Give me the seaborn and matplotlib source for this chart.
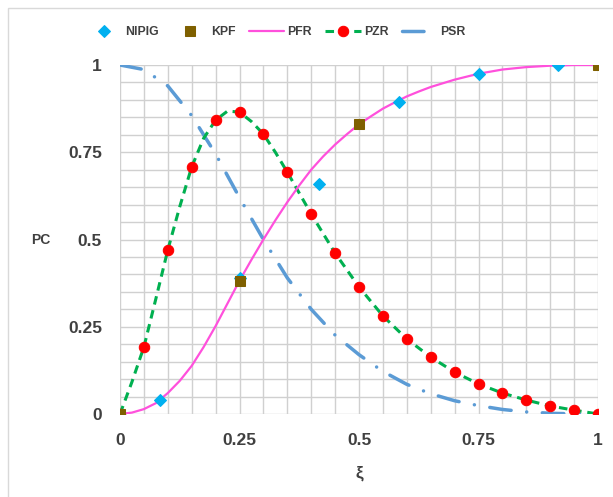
import matplotlib
matplotlib.use("Agg")
import matplotlib.pyplot as plt
import seaborn as sns
import pandas as pd
from matplotlib.patches import Rectangle

# ---- data ----
xi = [0, 0.05, 0.1, 0.15, 0.2, 0.25, 0.3, 0.35, 0.4, 0.45, 0.5,
      0.55, 0.6, 0.65, 0.7, 0.75, 0.8, 0.85, 0.9, 0.95, 1.0]
pzr = [0, 0.192, 0.47, 0.708, 0.842, 0.865, 0.802, 0.693, 0.573, 0.461, 0.364,
       0.281, 0.215, 0.163, 0.12, 0.086, 0.06, 0.04, 0.023, 0.011, 0]
# PZR curve (dashed line) read at a finer step near the peak
pzr_line_x = [0, 0.025, 0.05, 0.075, 0.1, 0.125, 0.15, 0.175, 0.2, 0.225, 0.25,
              0.275, 0.3, 0.325, 0.35, 0.4, 0.45, 0.5, 0.55, 0.6, 0.65, 0.7,
              0.75, 0.8, 0.85, 0.9, 0.95, 1.0]
pzr_line_y = [0, 0.092, 0.192, 0.33, 0.47, 0.594, 0.708, 0.79, 0.842, 0.868, 0.865,
              0.838, 0.802, 0.75, 0.693, 0.573, 0.461, 0.364, 0.281, 0.215, 0.163,
              0.12, 0.086, 0.06, 0.04, 0.023, 0.011, 0]
pfr_x = [0, 0.025, 0.05, 0.075, 0.1, 0.125, 0.15, 0.175, 0.2, 0.225, 0.25,
         0.275, 0.3, 0.325, 0.35, 0.375, 0.4, 0.425, 0.45, 0.475, 0.5,
         0.525, 0.55, 0.575, 0.6, 0.625, 0.65, 0.7, 0.75, 0.8, 0.85, 0.9,
         0.95, 1.0]
pfr = [0, 0.004, 0.014, 0.031, 0.06, 0.095, 0.138, 0.192, 0.252, 0.317, 0.382,
       0.442, 0.5, 0.555, 0.607, 0.655, 0.70, 0.738, 0.772, 0.802, 0.83,
       0.853, 0.875, 0.893, 0.91, 0.924, 0.937, 0.958, 0.975, 0.987, 0.994,
       0.998, 1.0, 1.0]
psr = [1.0, 0.987, 0.94, 0.855, 0.745, 0.62, 0.5, 0.39, 0.30, 0.226, 0.17,
       0.122, 0.085, 0.058, 0.038, 0.024, 0.013, 0.006, 0.002, 0.0005, 0]
nipig_x = [0.0833, 0.25, 0.4167, 0.5833, 0.75, 0.9167]
nipig_y = [0.04, 0.39, 0.66, 0.895, 0.975, 1.0]
kpf_x = [0, 0.25, 0.5, 1.0]
kpf_y = [0, 0.38, 0.83, 1.0]
tick_vals = [0, 0.25, 0.5, 0.75, 1]
tick_labels = ["0", "0.25", "0.5", "0.75", "1"]

sns.set_style("white")
plt.rcParams["font.family"] = ["Liberation Sans", "DejaVu Sans"]

fig = plt.figure(figsize=(6.13, 4.97), dpi=100)
ax = fig.add_axes([120 / 613, 1 - 414 / 497, 478 / 613, 349 / 497])

dpsr = pd.DataFrame({"x": xi, "y": psr})
dzl = pd.DataFrame({"x": pzr_line_x, "y": pzr_line_y})
dzm = pd.DataFrame({"x": xi, "y": pzr})
dfr = pd.DataFrame({"x": pfr_x, "y": pfr})
dn = pd.DataFrame({"x": nipig_x, "y": nipig_y})
dk = pd.DataFrame({"x": kpf_x, "y": kpf_y})

common = dict(estimator=None, errorbar=None, ax=ax, x="x", y="y")
sns.lineplot(data=dpsr, color="#5B9BD5", lw=2.5,
             linestyle=(0, (6.2, 4.5, 0.01, 4.5)), dash_capstyle="round",
             label="PSR", zorder=2, **common)
sns.lineplot(data=dzl, color="#00B050", lw=2.2, linestyle=(0, (2.8, 1.9)),
             label="PZR", zorder=3, **common)
sns.lineplot(data=dzm, color="#FF0000", linestyle="none", marker="o",
             markersize=7.5, markeredgecolor="#FF0000",
             label="_pzr_markers", zorder=3.5, **common)
sns.lineplot(data=dfr, color="#FF50DC", lw=1.6, label="PFR", zorder=4, **common)
sns.lineplot(data=dn, color="#00B0F0", linestyle="none", marker="D",
             markersize=6.3, markeredgecolor="#00B0F0",
             label="NIPIG", zorder=5, **common)
sns.lineplot(data=dk, color="#7F6000", linestyle="none", marker="s",
             markersize=7.5, markeredgecolor="#7F6000",
             label="KPF", zorder=6, **common)

ax.set_xlim(0, 1)
ax.set_ylim(0, 1)
ax.set_xticks([i * 0.05 for i in range(21)], minor=True)
ax.set_yticks([i * 0.05 for i in range(21)], minor=True)
ax.set_xticks(tick_vals)
ax.set_xticklabels(tick_labels)
ax.set_yticks(tick_vals)
ax.set_yticklabels(tick_labels)
ax.grid(True, which="both", color="#D0D0D0", lw=1.0)
ax.set_axisbelow(True)
for s in ax.spines.values():
    s.set_visible(False)
ax.tick_params(which="both", length=0)
ax.tick_params(axis="x", pad=14, labelsize=12.5, labelcolor="#404040")
ax.tick_params(axis="y", pad=13, labelsize=12.5, labelcolor="#404040")
for lab in ax.get_xticklabels() + ax.get_yticklabels():
    lab.set_fontweight("bold")

ax.set_xlabel("ξ", fontsize=12.5, fontweight="bold", color="#404040")
ax.xaxis.set_label_coords(0.5, -0.148)
ax.set_ylabel("PC", fontsize=10, fontweight="bold", color="#404040",
              rotation=0, va="center", ha="center")
ax.yaxis.set_label_coords((40.7 - 120) / 478, 0.5)

handles, labels = ax.get_legend_handles_labels()
hd = dict(zip(labels, handles))
ax.get_legend().remove()
pzr_marker_line = ax.lines[2]
leg_handles = [hd["NIPIG"], hd["KPF"], hd["PFR"], (hd["PZR"], pzr_marker_line), hd["PSR"]]
leg_labels = ["NIPIG", "KPF", "PFR", "PZR", "PSR"]
leg = fig.legend(leg_handles, leg_labels, loc="center",
                 bbox_to_anchor=(276 / 613, 1 - 32 / 497), ncol=5, frameon=False,
                 handlelength=2.9, handletextpad=0.25, columnspacing=1.1,
                 prop={"weight": "bold", "size": 8.8})
for t in leg.get_texts():
    t.set_color("#404040")

fig.patches.append(Rectangle((8 / 613, -0.05), 1.2, 1 - 8 / 497 + 0.05,
                             transform=fig.transFigure, fill=False,
                             edgecolor="#D9D9D9", lw=1.0, zorder=0))

fig.savefig("out.png", dpi=100)
